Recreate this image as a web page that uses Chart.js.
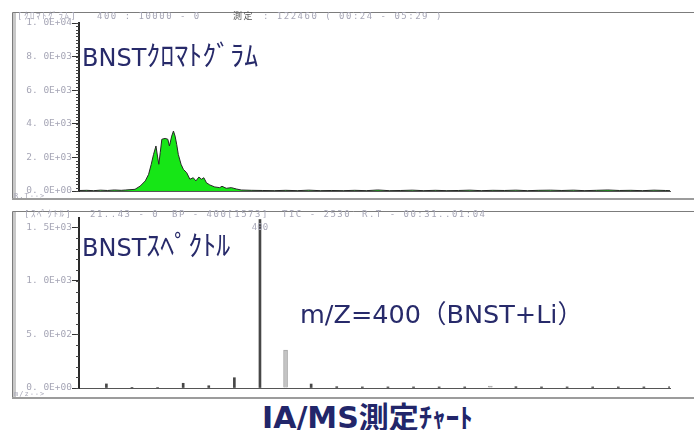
<!DOCTYPE html>
<html>
<head>
<meta charset="utf-8">
<script src="https://cdn.jsdelivr.net/npm/chart.js@4.4.0/dist/chart.umd.min.js"></script>
<style>
body { margin: 0; background: #fff; }
#wrap { position: relative; width: 694px; height: 430px; overflow: hidden; }
canvas { position: absolute; }
.hdr { position: absolute; font: 9px "DejaVu Sans Mono", "Noto Sans CJK JP", monospace; letter-spacing: 1.5px; color: #a6a6b6; white-space: pre; line-height: 9px; }
.foot { font-size: 7px; line-height: 7px; letter-spacing: 1px; }
.big { position: absolute; font: 24px "DejaVu Sans", "Noto Sans CJK JP", sans-serif; color: #272a6a; line-height: 24px; white-space: pre; }
.kana { font-family: "Noto Sans CJK JP", sans-serif; font-size: 28px; }
.title { position: absolute; font: bold 30px "DejaVu Sans", "Noto Sans CJK JP", sans-serif; color: #22266a; line-height: 30px; white-space: pre; }
</style>
</head>
<body>
<div id="wrap">
  <canvas id="chrom" width="682" height="188" style="left:12px;top:12px"></canvas>
  <canvas id="spec" width="682" height="188" style="left:12px;top:211px"></canvas>

  <div class="hdr" style="left:17px;top:12px">[ｸﾛﾏﾄｸﾞﾗﾑ]</div>
  <div class="hdr" style="left:97px;top:12px">400 : 10000 - 0</div>
  <div class="hdr" style="left:233px;top:12px;color:#555">測定</div>
  <div class="hdr" style="left:263px;top:12px">: 122460 ( 00:24 - 05:29 )</div>
  <div class="hdr foot" style="left:14px;top:193px">R.T--></div>

  <div class="hdr" style="left:24px;top:210px">[ｽﾍﾟｸﾄﾙ]</div>
  <div class="hdr" style="left:90px;top:210px">21..43 - 0</div>
  <div class="hdr" style="left:172px;top:210px">BP - 400[1573]</div>
  <div class="hdr" style="left:282px;top:210px">TIC - 2530</div>
  <div class="hdr" style="left:362px;top:210px">R.T - 00:31..01:04</div>
  <div class="hdr foot" style="left:14px;top:391px">m/z--></div>

  <div class="big" style="left:82px;top:42px">BNST<span class="kana">ｸﾛﾏﾄｸﾞﾗﾑ</span></div>
  <div class="big" style="left:82px;top:232px">BNST<span class="kana">ｽﾍﾟｸﾄﾙ</span></div>
  <div class="big" style="left:300px;top:302px;font-size:25.5px">m/Z=400（BNST+Li）</div>
  <div class="title" style="left:262px;top:403px">IA/MS測定<span style="font-size:27px">ﾁｬｰﾄ</span></div>
</div>

<script>
// chromatogram (top): retention time in minutes, intensity
const chromTimes = [0.06, 0.12, 0.18, 0.24, 0.30, 0.36, 0.42,
	0.46, 0.54, 0.586, 0.629, 0.658, 0.681, 0.701, 0.722, 0.735, 0.747, 0.759, 0.773, 0.802, 0.825, 0.839,
	0.859, 0.874, 0.888, 0.902, 0.916, 0.940, 0.960, 0.989,
	1.017, 1.046, 1.069, 1.095, 1.118, 1.138, 1.161, 1.190, 1.233, 1.276, 1.296, 1.333, 1.377, 1.420, 1.463, 1.55,
	1.65, 1.75, 1.85, 1.95, 2.05, 2.15, 2.25, 2.35, 2.45, 2.55, 2.65, 2.75, 2.85, 2.95, 3.05, 3.15, 3.25, 3.35,
	3.45, 3.55, 3.65, 3.75, 3.85, 3.95, 4.05, 4.15, 4.25, 4.35, 4.45, 4.55, 4.65, 4.75, 4.85, 4.95, 5.05, 5.15, 5.19];
const chromValues = [30, 40, 20, 50, 30, 60, 40,
	60, 100, 300, 600, 990, 1590, 2180, 2680, 2080, 1590, 2280, 3080, 3130, 3080, 2680,
	3270, 3570, 3270, 2780, 2180, 1590, 1290, 1090,
	700, 790, 600, 830, 700, 790, 490, 360, 240, 200, 280, 160, 200, 120, 60, 40,
	30, 20, 40, 20, 50, 20, 30, 20, 40, 20, 60, 20, 30, 50, 20, 40, 20, 30,
	50, 20, 40, 30, 50, 20, 40, 50, 30, 50, 20, 40, 60, 30, 40, 20, 50, 30, 20];
const chromYTicks = [0, 2000, 4000, 6000, 8000, 10000];
const chromYLabels = ['0. 0E+00', '2. 0E+03', '4. 0E+03', '6. 0E+03', '8. 0E+03', '1. 0E+04'];
const chromXTicks = [1, 2, 3, 4, 5];
const chromXLabels = ['01:00', '02:00', '03:00', '04:00', '05:00'];

// spectrum (bottom): m/z, intensity
const specMz = [394, 395, 396, 397, 398, 399, 400, 402, 403, 404, 405, 406, 407, 408, 410, 411, 412, 413, 414, 415, 416];
const specValues = [38, 6, 5, 44, 21, 96, 1573, 37, 12, 10, 10, 10, 10, 10, 12, 10, 10, 10, 10, 10, 10];
const isoMz = [401, 409];
const isoValues = [354, 18];
const specYTicks = [0, 500, 1000, 1500];
const specYLabels = ['0. 0E+00', '5. 0E+02', '1. 0E+03', '1. 5E+03'];
const specXTicks = [400, 410];
const specXLabels = ['400', '410'];
const basePeakMz = 400;
const basePeakValue = 1573;

const smallFont = { family: 'DejaVu Sans Mono', size: 9.5 };

// gray frame round each panel
const panelFrame = {
	id: 'panelFrame',
	beforeDraw(chart) {
		const ctx = chart.ctx, w = chart.width, h = chart.height;
		ctx.save();
		ctx.fillStyle = '#c8c8c8';
		ctx.fillRect(1, 1, 3, h - 3);
		ctx.strokeStyle = '#7c7c7c';
		ctx.lineWidth = 1;
		ctx.beginPath();
		ctx.moveTo(w, 0.5);
		ctx.lineTo(0.5, 0.5);
		ctx.lineTo(0.5, h - 1);
		ctx.stroke();
		ctx.fillStyle = '#9c9c9c';
		ctx.fillRect(0, h - 2, w, 2);
		ctx.restore();
	}
};

// short minor ticks on the y axis
const minorTicks = {
	id: 'minorTicks',
	afterDraw(chart, args, opts) {
		const y = chart.scales.y, ctx = chart.ctx, left = chart.chartArea.left;
		ctx.save();
		ctx.strokeStyle = '#444';
		ctx.lineWidth = 1;
		ctx.beginPath();
		for (let v = y.min; v <= y.max; v += opts.step) {
			const py = Math.round(y.getPixelForValue(v)) + 0.5;
			ctx.moveTo(left - opts.len, py);
			ctx.lineTo(left, py);
		}
		ctx.stroke();
		ctx.restore();
	}
};

// small m/z label at the base peak
const peakLabel = {
	id: 'peakLabel',
	afterDatasetsDraw(chart) {
		const ctx = chart.ctx;
		const px = chart.scales.x.getPixelForValue(basePeakMz);
		const py = chart.scales.y.getPixelForValue(basePeakValue);
		ctx.save();
		ctx.font = '9px "DejaVu Sans Mono"';
		ctx.fillStyle = '#a8a8b8';
		ctx.textAlign = 'center';
		ctx.textBaseline = 'middle';
		ctx.fillText(String(basePeakMz), px, py + 8);
		ctx.restore();
	}
};

new Chart(document.getElementById('chrom'), {
	type: 'line',
	data: {
		datasets: [{
			data: chromTimes.map((t, i) => ({ x: t, y: chromValues[i] })),
			borderColor: '#262626',
			borderWidth: 1,
			backgroundColor: '#16e616',
			fill: 'origin',
			pointRadius: 0,
			tension: 0
		}]
	},
	options: {
		responsive: false,
		animation: false,
		devicePixelRatio: 1,
		layout: { padding: { top: 11, right: 24, left: 0, bottom: 0 } },
		plugins: {
			legend: { display: false },
			tooltip: { enabled: false },
			minorTicks: { step: 200, len: 3 }
		},
		scales: {
			x: {
				type: 'linear',
				min: 0.053,
				max: 5.19,
				afterFit: s => { s.height = 9; },
				afterBuildTicks: s => { s.ticks = chromXTicks.map(v => ({ value: v })); },
				grid: { display: false },
				border: { color: '#555', width: 1 },
				ticks: { padding: 1, color: '#9494b8', font: smallFont, maxRotation: 0, autoSkip: false, callback: (v, i) => chromXLabels[i] }
			},
			y: {
				min: 0,
				max: 10000,
				afterFit: s => { s.width = 67; },
				afterBuildTicks: s => { s.ticks = chromYTicks.map(v => ({ value: v })); },
				grid: { drawOnChartArea: false, tickLength: 7, color: '#333' },
				border: { color: '#2a2a2a', width: 2 },
				ticks: { padding: 0, color: '#a6a6b6', font: smallFont, callback: (v, i) => chromYLabels[i] }
			}
		}
	},
	plugins: [panelFrame, minorTicks]
});

new Chart(document.getElementById('spec'), {
	type: 'bar',
	data: {
		datasets: [{
			data: specMz.map((m, i) => ({ x: m, y: specValues[i] })),
			backgroundColor: '#474747',
			barThickness: 2,
			grouped: false
		}, {
			data: isoMz.map((m, i) => ({ x: m, y: isoValues[i] })),
			backgroundColor: '#c4c4c4',
			borderColor: '#a6a6a6',
			borderWidth: 1,
			barThickness: 4,
			grouped: false
		}]
	},
	options: {
		responsive: false,
		animation: false,
		devicePixelRatio: 1,
		layout: { padding: { top: 7, right: 24, left: 0, bottom: 0 } },
		plugins: {
			legend: { display: false },
			tooltip: { enabled: false },
			minorTicks: { step: 100, len: 3 }
		},
		scales: {
			x: {
				type: 'linear',
				offset: false,
				min: 392.93,
				max: 416.02,
				afterFit: s => { s.height = 11; },
				afterBuildTicks: s => { s.ticks = specXTicks.map(v => ({ value: v })); },
				grid: { display: false },
				border: { color: '#555', width: 1 },
				ticks: { padding: 2, color: '#a890a0', font: smallFont, maxRotation: 0, autoSkip: false, callback: (v, i) => specXLabels[i] }
			},
			y: {
				min: 0,
				max: 1587,
				afterFit: s => { s.width = 67; },
				afterBuildTicks: s => { s.ticks = specYTicks.map(v => ({ value: v })); },
				grid: { drawOnChartArea: false, tickLength: 7, color: '#333' },
				border: { color: '#2a2a2a', width: 2 },
				ticks: { padding: 0, color: '#a6a6b6', font: smallFont, callback: (v, i) => specYLabels[i] }
			}
		}
	},
	plugins: [panelFrame, minorTicks, peakLabel]
});
</script>
</body>
</html>
